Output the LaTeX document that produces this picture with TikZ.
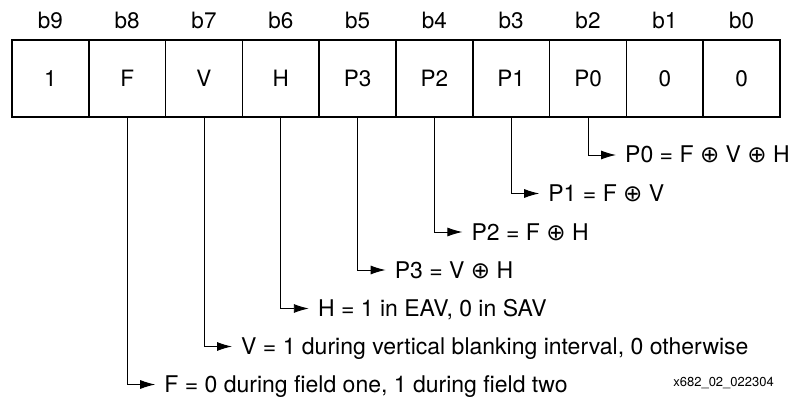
\documentclass[tikz,border=0pt]{standalone}
\usepackage{fontspec}
\setmainfont{TeX Gyre Heros}
\newfontfamily\symfont{DejaVu Sans}
\newcommand{\xor}{{\symfont ⊕}}
\usetikzlibrary{arrows.meta, positioning}

\begin{document}
\begin{tikzpicture}[
        x=1pt, y=-1pt,
        node distance=0pt,
        cell/.style={rectangle, draw, line width=1.6pt, minimum width=76.8pt, minimum height=77pt, inner sep=0pt, outer sep=0pt, font=\fontsize{22.5}{26}\selectfont},
        bit/.style={inner sep=0pt, font=\fontsize{22.5}{26}\selectfont},
        note/.style={anchor=west, inner sep=0pt, text height=16pt, text depth=0pt, font=\fontsize{23}{27}\selectfont},
        line/.style={draw, line width=0.9pt, -{Latex[length=15pt, width=9pt]}, shorten >=9pt}
    ]
    \useasboundingbox (0,0) rectangle (789,398);

    % Word cells
    \node [cell] (b9) at (50.4,78.5) {1};
    \node [cell, right=of b9] (b8) {F};
    \node [cell, right=of b8] (b7) {V};
    \node [cell, right=of b7] (b6) {H};
    \node [cell, right=of b6] (b5) {P3};
    \node [cell, right=of b5] (b4) {P2};
    \node [cell, right=of b4] (b3) {P1};
    \node [cell, right=of b3] (b2) {P0};
    \node [cell, right=of b2] (b1) {0};
    \node [cell, right=of b1] (b0) {0};

    % Bit numbers
    \foreach \i in {0,...,9}
        \node [bit, above=11pt of b\i] (t\i) {b\i};

    % Notes
    \node [note] (nP0) at (625,155) {P0 = F \xor{} V \xor{} H};
    \node [note] (nP1) at (548.2,193.5) {P1 = F \xor{} V};
    \node [note] (nP2) at (471.4,232) {P2 = F \xor{} H};
    \node [note] (nP3) at (394.6,270) {P3 = V \xor{} H};
    \node [note] (nH) at (317.8,308.5) {H = 1 in EAV, 0 in SAV};
    \node [note] (nV) at (241,346.5) {V = 1 during vertical blanking interval, 0 otherwise};
    \node [note] (nF) at (164.2,384.5) {F = 0 during field one, 1 during field two};
    \node [anchor=base east, inner sep=0pt, font=\fontsize{13}{15}\selectfont] (fig) at (774,386) {x682\_02\_022304};

    % Arrows
    \path [line] (b2.south) |- (nP0.west);
    \path [line] (b3.south) |- (nP1.west);
    \path [line] (b4.south) |- (nP2.west);
    \path [line] (b5.south) |- (nP3.west);
    \path [line] (b6.south) |- (nH.west);
    \path [line] (b7.south) |- (nV.west);
    \path [line] (b8.south) |- (nF.west);

\end{tikzpicture}
\end{document}
